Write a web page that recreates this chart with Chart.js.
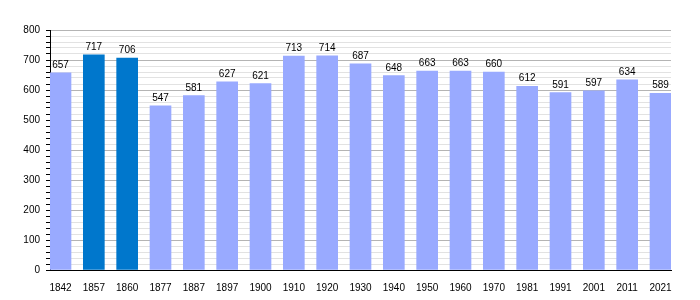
<!DOCTYPE html>
<html>
<head>
<meta charset="utf-8">
<script src="https://cdn.jsdelivr.net/npm/chart.js@4/dist/chart.umd.min.js"></script>
<style>
  html, body { margin: 0; padding: 0; background: #fff; }
</style>
</head>
<body>
<canvas id="popChart" width="700" height="300"></canvas>
<script>
// Population by census year

const years = ['1842','1857','1860','1877','1887','1897','1900','1910','1920','1930',
               '1940','1950','1960','1970','1981','1991','2001','2011','2021'];
const population = [657,717,706,547,581,627,621,713,714,687,
                    648,663,663,660,612,591,597,634,589];
const highlighted = ['1857','1860'];
const yTicks = [0,100,200,300,400,500,600,700,800];

const lightBlue = '#99aaff';
const darkBlue = '#0077cc';

Chart.defaults.font.family = '"Liberation Sans", Arial, sans-serif';
Chart.defaults.font.size = 10;
Chart.defaults.color = '#000';

// draw the value above each bar
const valueLabels = {
    id:'valueLabels',
    afterDatasetsDraw(chart){
        const ctx = chart.ctx;
        const meta = chart.getDatasetMeta(0);
        ctx.save();
        ctx.font = '10px "Liberation Sans", Arial, sans-serif';
        ctx.fillStyle = '#000';
        ctx.textAlign = 'center';
        ctx.textBaseline = 'alphabetic';
        meta.data.forEach((bar, i) => {
            ctx.fillText(population[i], bar.x, bar.y - 5);
        });
        ctx.restore();
    }
};

new Chart(
document.getElementById('popChart'),
{
    type:'bar',
    data:{
        datasets:[{
            data:population.map((v,i) => ({x:i, y:v})),
            backgroundColor:years.map(y => highlighted.includes(y) ? darkBlue : lightBlue),
            barThickness:21,
            borderWidth:0
        }]
    },
    options:{
        responsive:false,
        animation:false,
        layout:{padding:{top:30, right:29, left:0, bottom:0}},
        plugins:{
            legend:{display:false},
            tooltip:{enabled:false}
        },
        scales:{
            x:{
                type:'linear',
                offset:false,
                min:-0.315,
                max:18.315,
                grid:{display:false},
                border:{display:true, color:'#000', width:1},
                ticks:{
                    stepSize:1,
                    includeBounds:false,
                    autoSkip:false,
                    maxRotation:0,
                    padding:4,
                    callback:(v) => years[v]
                },
                afterFit:(scale) => { scale.height = 30; }
            },
            y:{
                min:0,
                max:800,
                grid:{
                    color:(c) => c.tick && c.tick.value % 100 === 0 ? '#b4b4b4' : '#e2e2e2',
                    tickColor:'#000',
                    tickLength:4
                },
                border:{display:true, color:'#000', width:1},
                ticks:{
                    stepSize:20,
                    autoSkip:false,
                    padding:6,
                    callback:(v) => yTicks.includes(v) ? v : ''
                },
                afterFit:(scale) => { scale.width = 50; }
            }
        }
    },
    plugins:[valueLabels]
});
</script>
</body>
</html>
